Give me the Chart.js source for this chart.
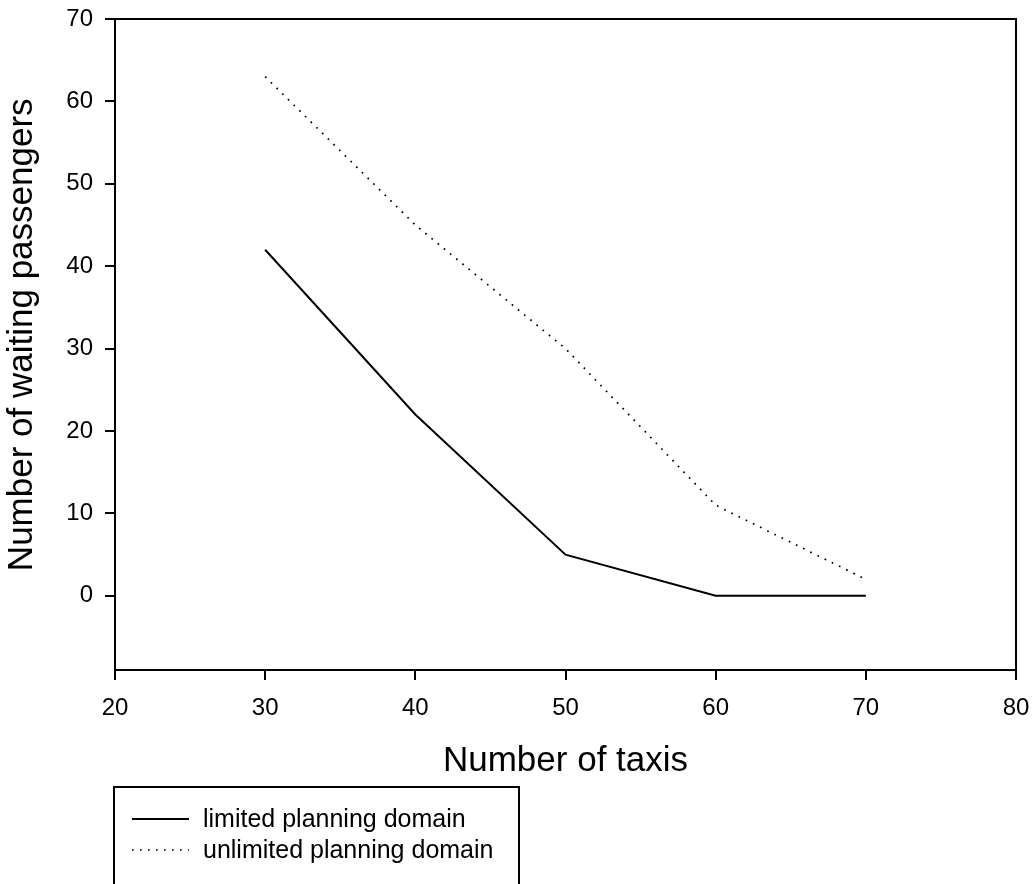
<!DOCTYPE html>
<html>
<head>
<meta charset="utf-8">
<script src="https://cdn.jsdelivr.net/npm/chart.js@4/dist/chart.umd.min.js"></script>
<style>
  html, body { margin: 0; padding: 0; background: #fff; }
  #wrap { width: 1036px; height: 884px; }
</style>
</head>
<body>
<div id="wrap"><canvas id="c" width="1036" height="884"></canvas></div>
<script>
// ---- data ----
const taxis = [30, 40, 50, 60, 70];
const limitedDomain = [42, 22, 5, 0, 0];
const unlimitedDomain = [63, 45, 30, 11, 2];
const seriesLabels = ['limited planning domain', 'unlimited planning domain'];
const xTicks = [20, 30, 40, 50, 60, 70, 80];
const yTicks = [0, 10, 20, 30, 40, 50, 60, 70];
const xTitle = 'Number of taxis';
const yTitle = 'Number of waiting passengers';

const FONT = '"Liberation Sans", Arial, sans-serif';

const frameAndLegend = {
  id: 'frameAndLegend',
  afterDraw(chart) {
    const ctx = chart.ctx;
    const a = chart.chartArea;
    ctx.save();
    ctx.strokeStyle = '#000';
    ctx.lineWidth = 2;
    ctx.setLineDash([]);
    ctx.beginPath();
    ctx.moveTo(a.left, a.top);
    ctx.lineTo(a.right, a.top);
    ctx.lineTo(a.right, a.bottom);
    ctx.stroke();

    // legend box
    ctx.strokeRect(114, 787, 405, 140);
    ctx.font = '25px ' + FONT;
    ctx.fillStyle = '#000';
    ctx.textBaseline = 'middle';
    ctx.textAlign = 'left';
    chart.data.datasets.forEach((ds, i) => {
      const y = 819 + i * 31;
      ctx.save();
      ctx.lineWidth = ds.borderWidth;
      ctx.setLineDash(ds.borderDash || []);
      ctx.beginPath();
      ctx.moveTo(132, y);
      ctx.lineTo(189, y);
      ctx.stroke();
      ctx.restore();
      ctx.fillText(ds.label, 203, y + 1);
    });
    ctx.restore();
  }
};

new Chart(document.getElementById('c'), {
  type: 'line',
  data: {
    datasets: [
      {
        label: seriesLabels[0],
        data: taxis.map((x, i) => ({ x, y: limitedDomain[i] })),
        borderColor: '#000',
        borderWidth: 2,
        pointRadius: 0,
        tension: 0,
        fill: false
      },
      {
        label: seriesLabels[1],
        data: taxis.map((x, i) => ({ x, y: unlimitedDomain[i] })),
        borderColor: '#000',
        borderWidth: 1.7,
        borderDash: [1.7, 6.3],
        pointRadius: 0,
        tension: 0,
        fill: false
      }
    ]
  },
  options: {
    responsive: false,
    animation: false,
    layout: { padding: { left: 0, right: 20, top: 19, bottom: 0 } },
    plugins: { legend: { display: false }, tooltip: { enabled: false } },
    scales: {
      x: {
        type: 'linear',
        min: 20,
        max: 80,
        afterBuildTicks: s => { s.ticks = xTicks.map(v => ({ value: v })); },
        afterFit: s => { s.height = 884 - 670; s.paddingLeft = 0; s.paddingRight = 0; },
        ticks: { color: '#000', font: { family: FONT, size: 24 }, padding: 14, maxRotation: 0, autoSkip: false },
        grid: { display: true, drawOnChartArea: false, drawTicks: true, tickLength: 10, color: '#000', lineWidth: 2 },
        border: { display: true, color: '#000', width: 2 },
        title: { display: true, text: xTitle, color: '#000', font: { family: FONT, size: 35 }, padding: { top: 0, bottom: 102 } }
      },
      y: {
        type: 'linear',
        min: -9,
        max: 70,
        afterBuildTicks: s => { s.ticks = yTicks.map(v => ({ value: v })); },
        afterFit: s => { s.width = 115; s.paddingTop = 0; s.paddingBottom = 0; },
        ticks: { color: '#000', font: { family: FONT, size: 24 }, padding: 12, autoSkip: false },
        grid: { display: true, drawOnChartArea: false, drawTicks: true, tickLength: 10, color: '#000', lineWidth: 2 },
        border: { display: true, color: '#000', width: 2 },
        title: { display: true, text: '  ' + yTitle, color: '#000', font: { family: FONT, size: 35 }, padding: { top: 1, bottom: 0 } }
      }
    }
  },
  plugins: [frameAndLegend]
});
</script>
</body>
</html>
